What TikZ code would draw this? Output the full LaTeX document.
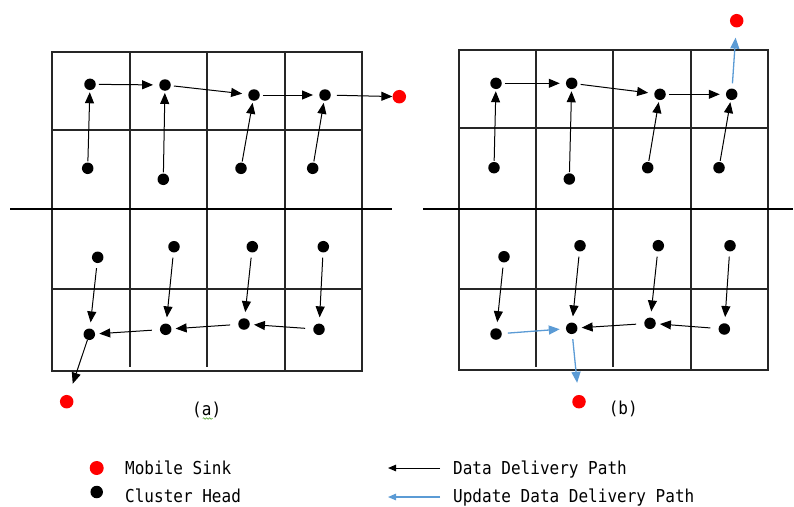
\documentclass[tikz,border=0pt]{standalone}
\usepackage{fontspec}
\usetikzlibrary{arrows.meta,decorations.pathmorphing}
\newfontfamily\labelfont[FakeStretch=0.9]{DejaVu Sans Mono}
\definecolor{sinkred}{RGB}{255,0,0}
\definecolor{updblue}{RGB}{91,155,213}
\definecolor{spellgreen}{RGB}{96,168,64}
\tikzset{
  ch/.style={circle,fill=black,inner sep=0pt,minimum size=11.5pt},
  sink/.style={circle,fill=sinkred,inner sep=0pt,minimum size=13.5pt},
  gridline/.style={line width=2pt,black!85},
  flow/.style={-{Triangle[length=11pt,width=9pt]},line width=1pt,shorten <=4pt,shorten >=5pt},
  upd/.style={flow,updblue,line width=1.3pt},
  txt/.style={font=\labelfont\fontsize{17.8}{20}\selectfont,inner sep=0pt},
}
\begin{document}
\begin{tikzpicture}[x=1pt,y=-1pt]
\useasboundingbox (0,0) rectangle (794,506);

% ---------- grid (a) ----------
\draw[gridline] (52,52) rectangle (362,371);
\draw[gridline] (52,130) -- (362,130);
\draw[gridline] (52,289) -- (362,289);
\draw[gridline] (130,52) -- (130,367);
\draw[gridline] (207,52) -- (207,367);
\draw[gridline] (285,52) -- (285,371);
\draw[line width=1.6pt] (10,209) -- (392,209);

% ---------- grid (b) ----------
\draw[gridline] (459,50) rectangle (768,370);
\draw[gridline] (459,128) -- (768,128);
\draw[gridline] (459,289) -- (768,289);
\draw[gridline] (536,50) -- (536,367);
\draw[gridline] (613,50) -- (613,367);
\draw[gridline] (691,50) -- (691,370);
\draw[line width=1.6pt] (423,209) -- (793,209);

% ---------- cluster heads (a) ----------
\node[ch] (a11) at (90,84.3) {};
\node[ch] (a12) at (165,85) {};
\node[ch] (a13) at (254,95) {};
\node[ch] (a14) at (325,95) {};
\node[ch] (a21) at (87.7,168.3) {};
\node[ch] (a22) at (163.3,179.3) {};
\node[ch] (a23) at (241,168.3) {};
\node[ch] (a24) at (312.7,168.3) {};
\node[ch] (a31) at (97.7,257.3) {};
\node[ch] (a32) at (174,246.7) {};
\node[ch] (a33) at (252.3,246.7) {};
\node[ch] (a34) at (323.3,246.7) {};
\node[ch] (a41) at (89.3,334.3) {};
\node[ch] (a42) at (165.7,329.3) {};
\node[ch] (a43) at (244,324) {};
\node[ch] (a44) at (319,329.3) {};
\node[sink] (sa1) at (399.3,96.7) {};
\node[sink] (sa2) at (66.7,401.7) {};

% ---------- paths (a) ----------
\draw[flow,shorten <=1pt,shorten >=2pt] (a21) -- (a11);
\draw[flow,shorten <=1pt,shorten >=2pt] (a22) -- (a12);
\draw[flow,shorten <=1pt,shorten >=2pt] (a23) -- (a13);
\draw[flow,shorten <=1pt,shorten >=2pt] (a24) -- (a14);
\draw[flow,shorten <=3pt,shorten >=6pt] (a11) -- (a12);
\draw[flow,shorten <=3pt,shorten >=6pt] (a12) -- (a13);
\draw[flow,shorten <=3pt,shorten >=6pt] (a13) -- (a14);
\draw[flow,shorten <=6pt,shorten >=0pt] (a14) -- (sa1);
\draw[flow,shorten <=5pt,shorten >=6pt] (a31) -- (a41);
\draw[flow,shorten <=5pt,shorten >=6pt] (a32) -- (a42);
\draw[flow,shorten <=5pt,shorten >=6pt] (a33) -- (a43);
\draw[flow,shorten <=5pt,shorten >=6pt] (a34) -- (a44);
\draw[flow,shorten <=8pt,shorten >=4pt] (a44) -- (a43);
\draw[flow,shorten <=8pt,shorten >=4pt] (a43) -- (a42);
\draw[flow,shorten <=8pt,shorten >=4pt] (a42) -- (a41);
\draw[flow,shorten <=0pt,shorten >=12pt] (a41) -- (sa2);

% ---------- cluster heads (b) ----------
\node[ch] (b11) at (496,83.3) {};
\node[ch] (b12) at (571.7,83.3) {};
\node[ch] (b13) at (660,94.3) {};
\node[ch] (b14) at (731.7,94.3) {};
\node[ch] (b21) at (494,167.7) {};
\node[ch] (b22) at (569.3,179) {};
\node[ch] (b23) at (647.7,167.7) {};
\node[ch] (b24) at (719,167.7) {};
\node[ch] (b31) at (504,256.7) {};
\node[ch] (b32) at (580,245.7) {};
\node[ch] (b33) at (658.3,245.7) {};
\node[ch] (b34) at (730,245.7) {};
\node[ch] (b41) at (496,334) {};
\node[ch] (b42) at (571.7,328.3) {};
\node[ch] (b43) at (650,323.3) {};
\node[ch] (b44) at (724.3,329) {};
\node[sink] (sb1) at (736.7,20.7) {};
\node[sink] (sb2) at (579,401.7) {};

% ---------- paths (b) ----------
\draw[flow,shorten <=1pt,shorten >=2pt] (b21) -- (b11);
\draw[flow,shorten <=1pt,shorten >=2pt] (b22) -- (b12);
\draw[flow,shorten <=1pt,shorten >=2pt] (b23) -- (b13);
\draw[flow,shorten <=1pt,shorten >=2pt] (b24) -- (b14);
\draw[flow,shorten <=3pt,shorten >=6pt] (b11) -- (b12);
\draw[flow,shorten <=3pt,shorten >=6pt] (b12) -- (b13);
\draw[flow,shorten <=3pt,shorten >=6pt] (b13) -- (b14);
\draw[flow,shorten <=5pt,shorten >=6pt] (b31) -- (b41);
\draw[flow,shorten <=5pt,shorten >=6pt] (b32) -- (b42);
\draw[flow,shorten <=5pt,shorten >=6pt] (b33) -- (b43);
\draw[flow,shorten <=5pt,shorten >=6pt] (b34) -- (b44);
\draw[flow,shorten <=8pt,shorten >=4pt] (b44) -- (b43);
\draw[flow,shorten <=8pt,shorten >=4pt] (b43) -- (b42);
\draw[upd,shorten <=5pt,shorten >=10pt] (b14) -- (sb1);
\draw[upd,shorten <=6pt,shorten >=6pt] (b41) -- (b42);
\draw[upd,shorten <=5pt,shorten >=12pt] (b42) -- (sb2);

% ---------- captions ----------
\node[txt,anchor=base] (capa) at (206.7,415.5) {(a)};
\node[txt,anchor=base] (capb) at (623.3,414.5) {(b)};
\draw[spellgreen,line width=0.6pt,decorate,decoration={snake,amplitude=0.8pt,segment length=3pt}]
  ([xshift=-4pt,yshift=-3pt]capa.base) -- ([xshift=6pt,yshift=-3pt]capa.base);

% ---------- legend ----------
\node[sink,minimum width=12pt,minimum height=14pt] (lsink) at (96.7,468) {};
\node[ch,minimum width=11pt,minimum height=12.5pt] (lch) at (96.7,492) {};
\node[txt,anchor=base west] (tsink) at (125,474) {Mobile Sink};
\node[txt,anchor=base west] (tch) at (125,502.5) {Cluster Head};
\coordinate (k1s) at (440,468);
\coordinate (k1e) at (388,468);
\coordinate (k2s) at (440,497);
\coordinate (k2e) at (388,497);
\draw[-{Triangle[length=8pt,width=6.5pt]},line width=1pt] (k1s) -- (k1e);
\draw[-{Triangle[length=8pt,width=6.5pt]},line width=1.1pt,updblue] (k2s) -- (k2e);
\node[txt,anchor=base west] (tdp) at (453,474) {Data Delivery Path};
\node[txt,anchor=base west] (tudp) at (453,502.5) {Update Data Delivery Path};
\end{tikzpicture}
\end{document}
